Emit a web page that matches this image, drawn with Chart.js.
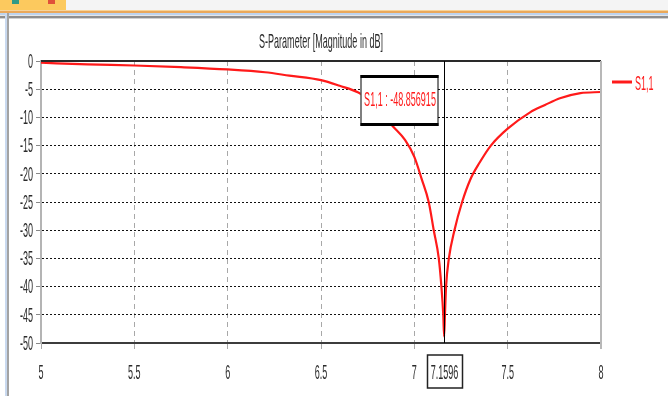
<!DOCTYPE html>
<html>
<head>
<meta charset="utf-8">
<script src="https://cdn.jsdelivr.net/npm/chart.js@4.4.1/dist/chart.umd.min.js"></script>
<style>
  html, body { margin: 0; padding: 0; background: #fff; }
  #wrap { position: relative; width: 668px; height: 396px; overflow: hidden; background: #fff; }
  .bar { position: absolute; left: 0; width: 668px; }
  #tab { position: absolute; left: 0; top: 0; width: 66px; height: 11px; background: #fcc95e; }
  #tab i { position: absolute; top: 0; width: 7px; height: 4px; }
  #lside1 { position: absolute; left: 5px; top: 13px; width: 2px; height: 383px; background: #c9d9ef; }
  #lside2 { position: absolute; left: 7px; top: 13px; width: 2px; height: 383px; background: #a3a3a3; }
  canvas { position: absolute; left: 0; top: 0; }
</style>
</head>
<body>
<div id="wrap">
  <div class="bar" style="top:0;height:10px;background:#f4f4f4"></div>
  <div id="tab"><i style="left:12px;background:#2f9a86"></i><i style="left:48px;background:#e0503a"></i></div>
  <div class="bar" style="top:10px;height:1px;background:#f7d49a"></div>
  <div class="bar" style="top:11px;height:2px;background:#eaa85a"></div>
  <div class="bar" style="top:13px;height:2px;background:#bcd3ef"></div>
  <div class="bar" style="top:15px;height:1px;background:#e6e6e6"></div>
  <div class="bar" style="top:16px;height:2px;background:#8e8e8e"></div>
  <div class="bar" style="top:18px;height:1px;background:#d0d0d0"></div>
  <div id="lside1"></div><div id="lside2"></div>
  <canvas id="chart" width="668" height="396"></canvas>
</div>
<script>
'use strict';

// ── Data ──────────────────────────────────────────────────
const titleText = 'S-Parameter [Magnitude in dB]';
const seriesName = 'S1,1';
const freq = [5.0, 5.25, 5.5, 5.75, 6.0, 6.2, 6.33, 6.5, 6.6, 6.7, 6.8, 6.88, 6.95, 7.0, 7.04, 7.077,
              7.104, 7.131, 7.145, 7.155, 7.1596, 7.164, 7.17, 7.185, 7.215, 7.256, 7.3, 7.35, 7.41,
              7.5, 7.62, 7.7, 7.78, 7.89, 8.0];
const s11 = [-0.3, -0.6, -0.8, -1.1, -1.5, -2.0, -2.6, -3.4, -4.4, -5.6, -8.0, -11.4, -14.0, -17.0, -21.0, -25.0,
             -30.0, -35.0, -40.0, -45.0, -48.856915, -45.0, -40.0, -35.0, -30.0, -25.0, -21.0, -18.0, -15.0,
             -12.0, -9.1, -7.8, -6.6, -5.7, -5.5];
const xTicks = [5, 5.5, 6, 6.5, 7, 7.5, 8];
const yTicks = [0, -5, -10, -15, -20, -25, -30, -35, -40, -45, -50];
const markerX = 7.1596;
const markerY = -48.856915;

const FONT = "21px 'Liberation Sans', Arial, sans-serif";
const SQUASH = 0.43;   // the screenshot's text is very narrow
const RED = '#ff1a1a';
const INK = '#2b2b2b';

// narrow text, like the original capture
function narrowText(ctx, text, x, y, align, color) {
  ctx.save();
  ctx.font = FONT;
  ctx.fillStyle = color;
  ctx.textAlign = align;
  ctx.textBaseline = 'middle';
  ctx.translate(x, y);
  ctx.scale(SQUASH, 1);
  ctx.fillText(text, 0, 0);
  ctx.restore();
}

// ── Labels, marker, borders and legend drawn on top ───────
const overlay = {
  id: 'overlay',
  afterDraw(chart) {
    const { ctx, chartArea: a, scales: { x, y } } = chart;
    ctx.save();
    // top border at 0 dB
    ctx.strokeStyle = '#2a2a2a'; ctx.lineWidth = 2;
    ctx.beginPath(); ctx.moveTo(a.left, y.getPixelForValue(0)); ctx.lineTo(a.right, y.getPixelForValue(0)); ctx.stroke();
    // right border
    ctx.strokeStyle = '#b8b8b8'; ctx.lineWidth = 2;
    ctx.beginPath(); ctx.moveTo(x.getPixelForValue(8), a.top); ctx.lineTo(x.getPixelForValue(8), a.bottom + 6); ctx.stroke();

    // title and tick labels
    narrowText(ctx, titleText, (a.left + a.right) / 2, 42, 'center', INK);
    x.ticks.forEach(t => narrowText(ctx, String(t.value), x.getPixelForValue(t.value), 373, 'center', INK));
    y.ticks.forEach(t => narrowText(ctx, String(t.value), 33, y.getPixelForValue(t.value) + 1, 'right', INK));

    // marker line
    const mx = Math.round(x.getPixelForValue(markerX)) + 0.5;
    ctx.strokeStyle = '#000'; ctx.lineWidth = 1;
    ctx.beginPath(); ctx.moveTo(mx, a.top); ctx.lineTo(mx, a.bottom); ctx.stroke();

    // marker readout box
    const bw = 77, bh = 50, bx = mx - 7 - bw, by = 75;
    ctx.fillStyle = '#fff'; ctx.fillRect(bx, by, bw, bh);
    ctx.strokeStyle = '#000'; ctx.lineWidth = 1; ctx.strokeRect(bx + 0.5, by + 0.5, bw, bh);
    ctx.lineWidth = 3;
    ctx.beginPath(); ctx.moveTo(bx, by + 1.5); ctx.lineTo(bx + bw + 1, by + 1.5);
    ctx.moveTo(bx, by + bh - 0.5); ctx.lineTo(bx + bw + 1, by + bh - 0.5); ctx.stroke();
    narrowText(ctx, seriesName + ' : ' + markerY.toFixed(6), bx + bw / 2 + 1, by + bh / 2, 'center', RED);

    // marker x label box
    ctx.fillStyle = '#fff'; ctx.fillRect(mx - 17, 355, 35, 33);
    ctx.strokeStyle = '#222'; ctx.lineWidth = 1.5;
    ctx.strokeRect(mx - 17, 355, 35, 33);
    narrowText(ctx, String(markerX), mx, 373, 'center', INK);

    // legend
    ctx.strokeStyle = RED; ctx.lineWidth = 3;
    ctx.beginPath(); ctx.moveTo(612, 82); ctx.lineTo(632, 82); ctx.stroke();
    narrowText(ctx, seriesName, 635, 84, 'left', RED);
    ctx.restore();
  }
};

new Chart(document.getElementById('chart'), {
  type: 'scatter',
  data: {
    datasets: [{
      label: seriesName,
      data: freq.map((f, i) => ({ x: f, y: s11[i] })),
      showLine: true,
      borderColor: RED,
      borderWidth: 2.2,
      pointRadius: 0,
      cubicInterpolationMode: 'monotone'
    }]
  },
  options: {
    responsive: false,
    animation: false,
    events: [],
    layout: { padding: { left: 0, right: 67, top: 61, bottom: 0 } },
    plugins: {
      legend: { display: false },
      tooltip: { enabled: false },
      title: { display: false }
    },
    scales: {
      x: {
        type: 'linear', min: 5, max: 8,
        afterBuildTicks: s => { s.ticks = xTicks.map(v => ({ value: v })); },
        afterFit: s => { s.height = 53; },
        ticks: { display: false },
        grid: { color: '#a8a8a8', lineWidth: 1, tickLength: 6, tickColor: '#a8a8a8', tickBorderDash: [5, 4] },
        border: { color: '#3c3c3c', width: 2, dash: [5, 4] }
      },
      y: {
        type: 'linear', min: -50, max: 0,
        afterBuildTicks: s => { s.ticks = yTicks.map(v => ({ value: v })); },
        afterFit: s => { s.width = 41; },
        ticks: { display: false },
        grid: { color: '#111', lineWidth: 1, tickLength: 5, tickColor: '#888', tickBorderDash: [] },
        border: { color: '#b4b4b4', width: 2, dash: [2, 2] }
      }
    }
  },
  plugins: [overlay]
});
</script>
</body>
</html>
